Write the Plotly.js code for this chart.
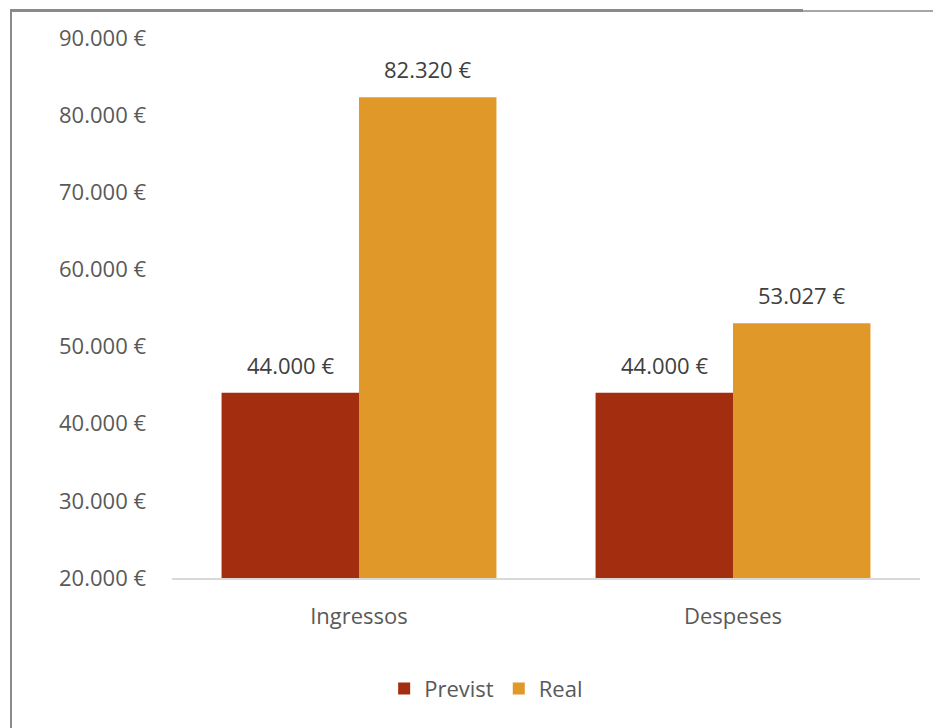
<!DOCTYPE html>
<html>
<head>
<meta charset="utf-8">
<script src="https://cdn.plot.ly/plotly-3.0.1.min.js"></script>
<style>
html,body{margin:0;padding:0;background:#fff;}
#wrap{position:relative;width:933px;height:728px;overflow:hidden;}
#chart{position:absolute;left:0;top:0;width:933px;height:728px;}
.bd{position:absolute;}
</style>
</head>
<body>
<div id="wrap">
<div id="chart"></div>
<div class="bd" style="left:10px;top:9px;width:793px;height:3px;background:#8a8a8a;"></div>
<div class="bd" style="left:803px;top:10px;width:130px;height:2px;background:#a6a6a6;"></div>
<div class="bd" style="left:10px;top:9px;width:2px;height:719px;background:#8a8a8a;"></div>
</div>
<script>
const categories = ["Ingressos", "Despeses"];
const previst = [44000, 44000];
const real = [82320, 53027];
const seriesNames = ["Previst", "Real"];
const tickVals = [20000, 30000, 40000, 50000, 60000, 70000, 80000, 90000];
const tickText = ["20.000 €", "30.000 €", "40.000 €", "50.000 €", "60.000 €", "70.000 €", "80.000 €", "90.000 €"];

const colors = ["#A32E0F", "#E09828"];
const FONT = "Open Sans, Noto Sans, sans-serif";
const fmt = v => v.toLocaleString("de-DE") + " €";

const bargap = 0.265;
const barW = (1 - bargap) / 2;

const traces = [previst, real].map((vals, k) => ({
  type: "bar",
  name: seriesNames[k],
  x: categories.map((c, i) => i),
  y: vals,
  marker: {color: colors[k], line: {width: 0}},
  hoverinfo: "none"
}));

const annotations = [];
[previst, real].forEach((vals, k) => {
  vals.forEach((v, i) => {
    annotations.push({
      x: i + (k === 0 ? -barW / 2 : barW / 2),
      y: v,
      xref: "x", yref: "y",
      text: fmt(v),
      showarrow: false,
      yanchor: "bottom",
      yshift: 11,
      font: {family: FONT, size: 22, color: "#404040"}
    });
  });
});

const layout = {
  width: 933, height: 728,
  margin: {l: 172, r: 13, t: 38, b: 150},
  paper_bgcolor: "rgba(0,0,0,0)",
  plot_bgcolor: "rgba(0,0,0,0)",
  barmode: "group",
  bargap: bargap,
  bargroupgap: 0,
  showlegend: true,
  legend: {
    orientation: "h",
    x: 0.42, xanchor: "center",
    y: -0.205, yanchor: "middle",
    font: {family: FONT, size: 22, color: "#595959"},
    itemwidth: 30,
    traceorder: "normal"
  },
  xaxis: {
    range: [-0.5, 1.5],
    tickmode: "array",
    tickvals: categories.map((c, i) => i),
    ticktext: categories,
    showline: true, linecolor: "#d9d9d9", linewidth: 1.5,
    showgrid: false, zeroline: false,
    ticks: "", ticklen: 0,
    ticklabelstandoff: 18,
    tickfont: {family: FONT, size: 22, color: "#595959"},
    fixedrange: true
  },
  yaxis: {
    range: [20000, 90000],
    tickmode: "array",
    tickvals: tickVals,
    ticktext: tickText,
    showline: false, showgrid: false, zeroline: false,
    ticks: "", ticklabelstandoff: 25,
    tickfont: {family: FONT, size: 22, color: "#595959"},
    fixedrange: true
  },
  annotations: annotations
};

Plotly.newPlot("chart", traces, layout, {staticPlot: true, displayModeBar: false});
</script>
</body>
</html>
